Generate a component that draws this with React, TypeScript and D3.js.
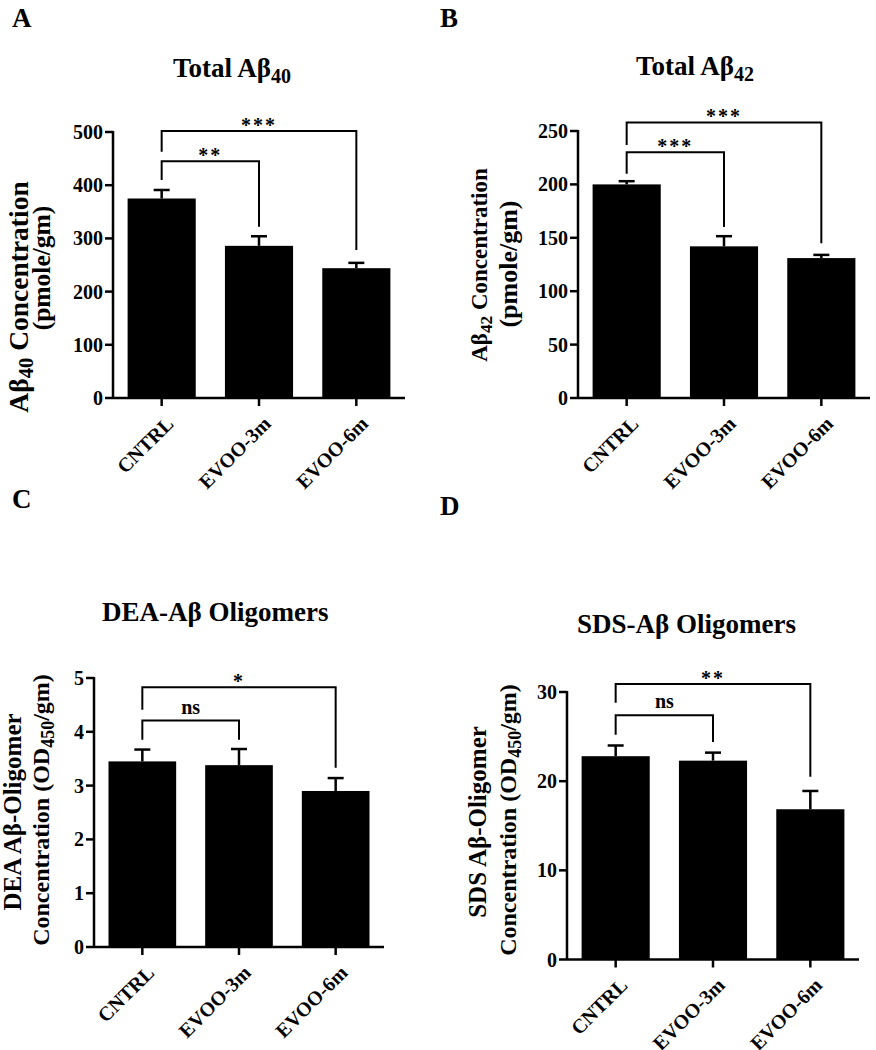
import * as d3 from "d3";

const groups = ["CNTRL", "EVOO-3m", "EVOO-6m"];

// Total Aβ40 (pmole/gm)
const ab40Mean = [375, 286, 244];
const ab40Sem = [16, 18, 10];
const ab40Ticks = [0, 100, 200, 300, 400, 500];
const ab40Brackets = [
  { a: 0, b: 2, top: 502, left: 463, right: 278, label: "***" },
  { a: 0, b: 1, top: 445, left: 410, right: 322, label: "**" },
];

// Total Aβ42 (pmole/gm)
const ab42Mean = [200, 142, 131];
const ab42Sem = [3, 9.5, 3];
const ab42Ticks = [0, 50, 100, 150, 200, 250];
const ab42Brackets = [
  { a: 0, b: 2, top: 258, left: 237, right: 145, label: "***" },
  { a: 0, b: 1, top: 230, left: 210, right: 160, label: "***" },
];

// DEA-Aβ oligomers (OD450/gm)
const deaMean = [3.45, 3.38, 2.9];
const deaSem = [0.22, 0.3, 0.24];
const deaTicks = [0, 1, 2, 3, 4, 5];
const deaBrackets = [
  { a: 0, b: 2, top: 4.83, left: 4.41, right: 3.33, label: "*" },
  { a: 0, b: 1, top: 4.21, left: 3.85, right: 3.85, label: "ns" },
];

// SDS-Aβ oligomers (OD450/gm)
const sdsMean = [22.8, 22.3, 16.85];
const sdsSem = [1.2, 0.9, 2.05];
const sdsTicks = [0, 10, 20, 30];
const sdsBrackets = [
  { a: 0, b: 2, top: 30.9, left: 28.8, right: 20.5, label: "**" },
  { a: 0, b: 1, top: 27.4, left: 25.2, right: 24.4, label: "ns" },
];

const FONT = "'Liberation Serif', 'Times New Roman', serif";

// rotated label with an optional subscript in the middle
function RotLabel({ x, y, size, parts }) {
  return (
    <text transform={`translate(${x},${y}) rotate(-90)`} textAnchor="middle" fontSize={size}>
      {parts[0]}
      {parts[1] && (
        <tspan fontSize={size * 0.75} dy={5}>
          {parts[1]}
        </tspan>
      )}
      {parts[2] && <tspan dy={-5}>{parts[2]}</tspan>}
    </text>
  );
}

function Panel({ p }) {
  const x = d3
    .scaleBand()
    .domain(groups)
    .range([p.x0, p.x1])
    .paddingInner(0.3)
    .paddingOuter(0.15);
  const y = d3.scaleLinear().domain([0, p.max]).range([p.yBase, p.yTop]);
  const cx = (i) => x(groups[i]) + x.bandwidth() / 2;

  return (
    <g fontFamily={FONT} fontWeight="bold" fill="#000">
      <text x={p.letter[0]} y={p.letter[1]} fontSize={27}>
        {p.letterText}
      </text>
      <text x={p.title[0]} y={p.title[1]} fontSize={27}>
        {p.titleText}
        {p.titleSub && (
          <tspan fontSize={20} dy={6}>
            {p.titleSub}
          </tspan>
        )}
      </text>

      <RotLabel x={p.yl1[0]} y={p.yl1[1]} size={p.yl1[2]} parts={p.ylab1} />
      <RotLabel x={p.yl2[0]} y={p.yl2[1]} size={p.yl2[2]} parts={p.ylab2} />

      {/* bars */}
      {p.mean.map((m, i) => (
        <rect
          key={"b" + i}
          x={x(groups[i])}
          y={y(m)}
          width={x.bandwidth()}
          height={p.yBase - y(m)}
          fill="#000"
        />
      ))}
      {p.mean.map((m, i) => (
        <g key={"e" + i} stroke="#000" strokeWidth={2.5}>
          <line x1={cx(i)} x2={cx(i)} y1={y(m)} y2={y(m + p.sem[i])} />
          <line x1={cx(i) - 8} x2={cx(i) + 8} y1={y(m + p.sem[i])} y2={y(m + p.sem[i])} />
        </g>
      ))}

      {/* axes */}
      <g stroke="#000" strokeWidth={2.5}>
        <line x1={p.x0} x2={p.x0} y1={p.yTop - 1} y2={p.yBase} />
        <line x1={p.x0} x2={p.x1} y1={p.yBase} y2={p.yBase} />
        {p.ticks.map((t) => (
          <line key={t} x1={p.x0 - 8} x2={p.x0} y1={y(t)} y2={y(t)} />
        ))}
        {groups.map((g, i) => (
          <line key={g} x1={cx(i)} x2={cx(i)} y1={p.yBase} y2={p.yBase + 8} />
        ))}
      </g>
      {p.ticks.map((t) => (
        <text key={t} x={p.x0 - 10} y={y(t)} dy="0.35em" textAnchor="end" fontSize={20}>
          {t}
        </text>
      ))}
      {groups.map((g, i) => (
        <text
          key={g}
          transform={`translate(${cx(i) + 13},${p.yBase + 27}) rotate(-45)`}
          textAnchor="end"
          fontSize={20}
        >
          {g}
        </text>
      ))}

      {/* significance brackets */}
      {p.brackets.map((b, k) => (
        <g key={"s" + k}>
          <path
            d={`M${cx(b.a)},${y(b.left)}V${y(b.top)}H${cx(b.b)}V${y(b.right)}`}
            fill="none"
            stroke="#000"
            strokeWidth={2}
          />
          <text
            x={(cx(b.a) + cx(b.b)) / 2}
            y={b.label === "ns" ? y(b.top) - 7 : y(b.top) + 1}
            textAnchor="middle"
            fontSize={20}
            letterSpacing={b.label === "ns" ? 0 : 2}
          >
            {b.label}
          </text>
        </g>
      ))}
    </g>
  );
}

const panels = [
  {
    letterText: "A", letter: [12, 27],
    titleText: "Total Aβ", titleSub: "40", title: [173, 77],
    ylab1: ["Aβ", "40", " Concentration"], ylab2: ["(pmole/gm)"],
    yl1: [28, 297, 27.5], yl2: [50, 268, 25.5],
    x0: 113, x1: 405, yTop: 132, yBase: 398, max: 500,
    mean: ab40Mean, sem: ab40Sem, ticks: ab40Ticks, brackets: ab40Brackets,
  },
  {
    letterText: "B", letter: [440, 27],
    titleText: "Total Aβ", titleSub: "42", title: [636, 75],
    ylab1: ["Aβ", "42", " Concentration"], ylab2: ["(pmole/gm)"],
    yl1: [487, 265, 23], yl2: [517, 264, 26],
    x0: 578, x1: 870, yTop: 131, yBase: 398, max: 250,
    mean: ab42Mean, sem: ab42Sem, ticks: ab42Ticks, brackets: ab42Brackets,
  },
  {
    letterText: "C", letter: [12, 508],
    titleText: "DEA-Aβ Oligomers", title: [102, 621],
    ylab1: ["DEA Aβ-Oligomer"], ylab2: ["Concentration (OD", "450", "/gm)"],
    yl1: [21, 812, 25], yl2: [49, 810, 24],
    x0: 94, x1: 384, yTop: 678, yBase: 947, max: 5,
    mean: deaMean, sem: deaSem, ticks: deaTicks, brackets: deaBrackets,
  },
  {
    letterText: "D", letter: [440, 515],
    titleText: "SDS-Aβ Oligomers", title: [577, 633],
    ylab1: ["SDS Aβ-Oligomer"], ylab2: ["Concentration (OD", "450", "/gm)"],
    yl1: [486, 822, 25], yl2: [516, 820, 24],
    x0: 567, x1: 859, yTop: 692, yBase: 959.5, max: 30,
    mean: sdsMean, sem: sdsSem, ticks: sdsTicks, brackets: sdsBrackets,
  },
];

export default function App() {
  return (
    <svg
      width={876}
      height={1050}
      style={{ position: "absolute", left: 0, top: 0, background: "#fff" }}
    >
      <rect width={876} height={1050} fill="#fff" />
      {panels.map((p) => (
        <Panel key={p.letterText} p={p} />
      ))}
    </svg>
  );
}
